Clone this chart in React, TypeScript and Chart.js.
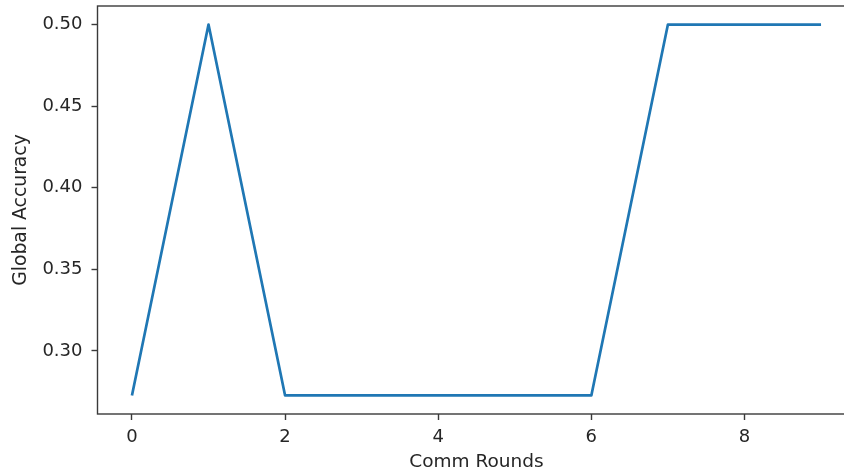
import React, { useEffect, useRef } from "react";
import { Chart, registerables } from "chart.js";

Chart.register(...registerables);

const commRounds = [0, 1, 2, 3, 4, 5, 6, 7, 8, 9];
const globalAccuracy = [0.2727, 0.5, 0.2727, 0.2727, 0.2727, 0.2727, 0.2727, 0.5, 0.5, 0.5];
const xTickValues = [0, 2, 4, 6, 8];
const yTickValues = [0.3, 0.35, 0.4, 0.45, 0.5];

const FONT = "'DejaVu Sans', sans-serif";
const TEXT = "#262626";
const SPINE = "#3a3a3a";

// matplotlib-like box of spines around the plotting area
const framePlugin = {
  id: "frame",
  afterDatasetsDraw(chart: any) {
    const { ctx, chartArea } = chart;
    const { left, top, right, bottom } = chartArea;
    ctx.save();
    ctx.strokeStyle = SPINE;
    ctx.lineWidth = 1.4;
    ctx.strokeRect(left, top, right - left, bottom - top);
    ctx.restore();
  },
};

const zeroPad = (s: any) => {
  s.paddingLeft = 0;
  s.paddingRight = 0;
  s.paddingTop = 0;
  s.paddingBottom = 0;
};

export default function App() {
  const ref = useRef<HTMLCanvasElement>(null);
  useEffect(() => {
    if (!ref.current) return;
    const xMin = Math.min(...commRounds);
    const xMax = Math.max(...commRounds);
    const yMin = Math.min(...globalAccuracy);
    const yMax = Math.max(...globalAccuracy);
    const xPad = (xMax - xMin) * 0.05;
    const yPad = (yMax - yMin) * 0.05;
    const chart = new Chart(ref.current, {
      type: "line",
      data: {
        datasets: [
          {
            data: commRounds.map((r, i) => ({ x: r, y: globalAccuracy[i] })),
            borderColor: "#1f77b4",
            borderWidth: 2.7,
            borderJoinStyle: "round",
            borderCapStyle: "butt",
            pointRadius: 0,
            tension: 0,
            fill: false,
          },
        ],
      },
      plugins: [framePlugin],
      options: {
        animation: false,
        responsive: false,
        devicePixelRatio: 1,
        layout: { padding: { top: 6, right: 0.5, left: 0, bottom: 0 } },
        plugins: { legend: { display: false }, tooltip: { enabled: false } },
        scales: {
          x: {
            type: "linear",
            min: xMin - xPad,
            max: xMax + xPad,
            afterBuildTicks: (s: any) => {
              s.ticks = xTickValues.map((v) => ({ value: v }));
            },
            afterFit: (s: any) => {
              s.height = 61;
              zeroPad(s);
            },
            ticks: {
              font: { family: FONT, size: 18 },
              color: TEXT,
              padding: 7,
              maxRotation: 0,
              callback: (v: any) => String(v),
            },
            grid: { drawOnChartArea: false, drawTicks: true, tickLength: 6, tickColor: SPINE, tickWidth: 1.4 },
            border: { display: false },
            title: {
              display: true,
              text: "Comm Rounds",
              font: { family: FONT, size: 18.5 },
              color: TEXT,
              padding: { top: 0, bottom: 2 },
            },
          },
          y: {
            type: "linear",
            min: yMin - yPad,
            max: yMax + yPad,
            afterBuildTicks: (s: any) => {
              s.ticks = yTickValues.map((v) => ({ value: v }));
            },
            afterFit: (s: any) => {
              s.width = 97.5;
              zeroPad(s);
            },
            ticks: {
              font: { family: FONT, size: 18 },
              color: TEXT,
              padding: 9,
              callback: (v: any) => Number(v).toFixed(2),
            },
            grid: { drawOnChartArea: false, drawTicks: true, tickLength: 6, tickColor: SPINE, tickWidth: 1.4 },
            border: { display: false },
            title: {
              display: true,
              text: "Global Accuracy",
              font: { family: FONT, size: 18.8 },
              color: TEXT,
              padding: { top: 10, bottom: 0 },
            },
          },
        },
      },
    });
    return () => chart.destroy();
  }, []);
  return (
    <div style={{ position: "fixed", left: 0, top: 0, width: 844, height: 475, overflow: "hidden", background: "#fff" }}>
      <canvas ref={ref} width={856} height={475} style={{ width: 856, height: 475, display: "block" }} />
    </div>
  );
}
